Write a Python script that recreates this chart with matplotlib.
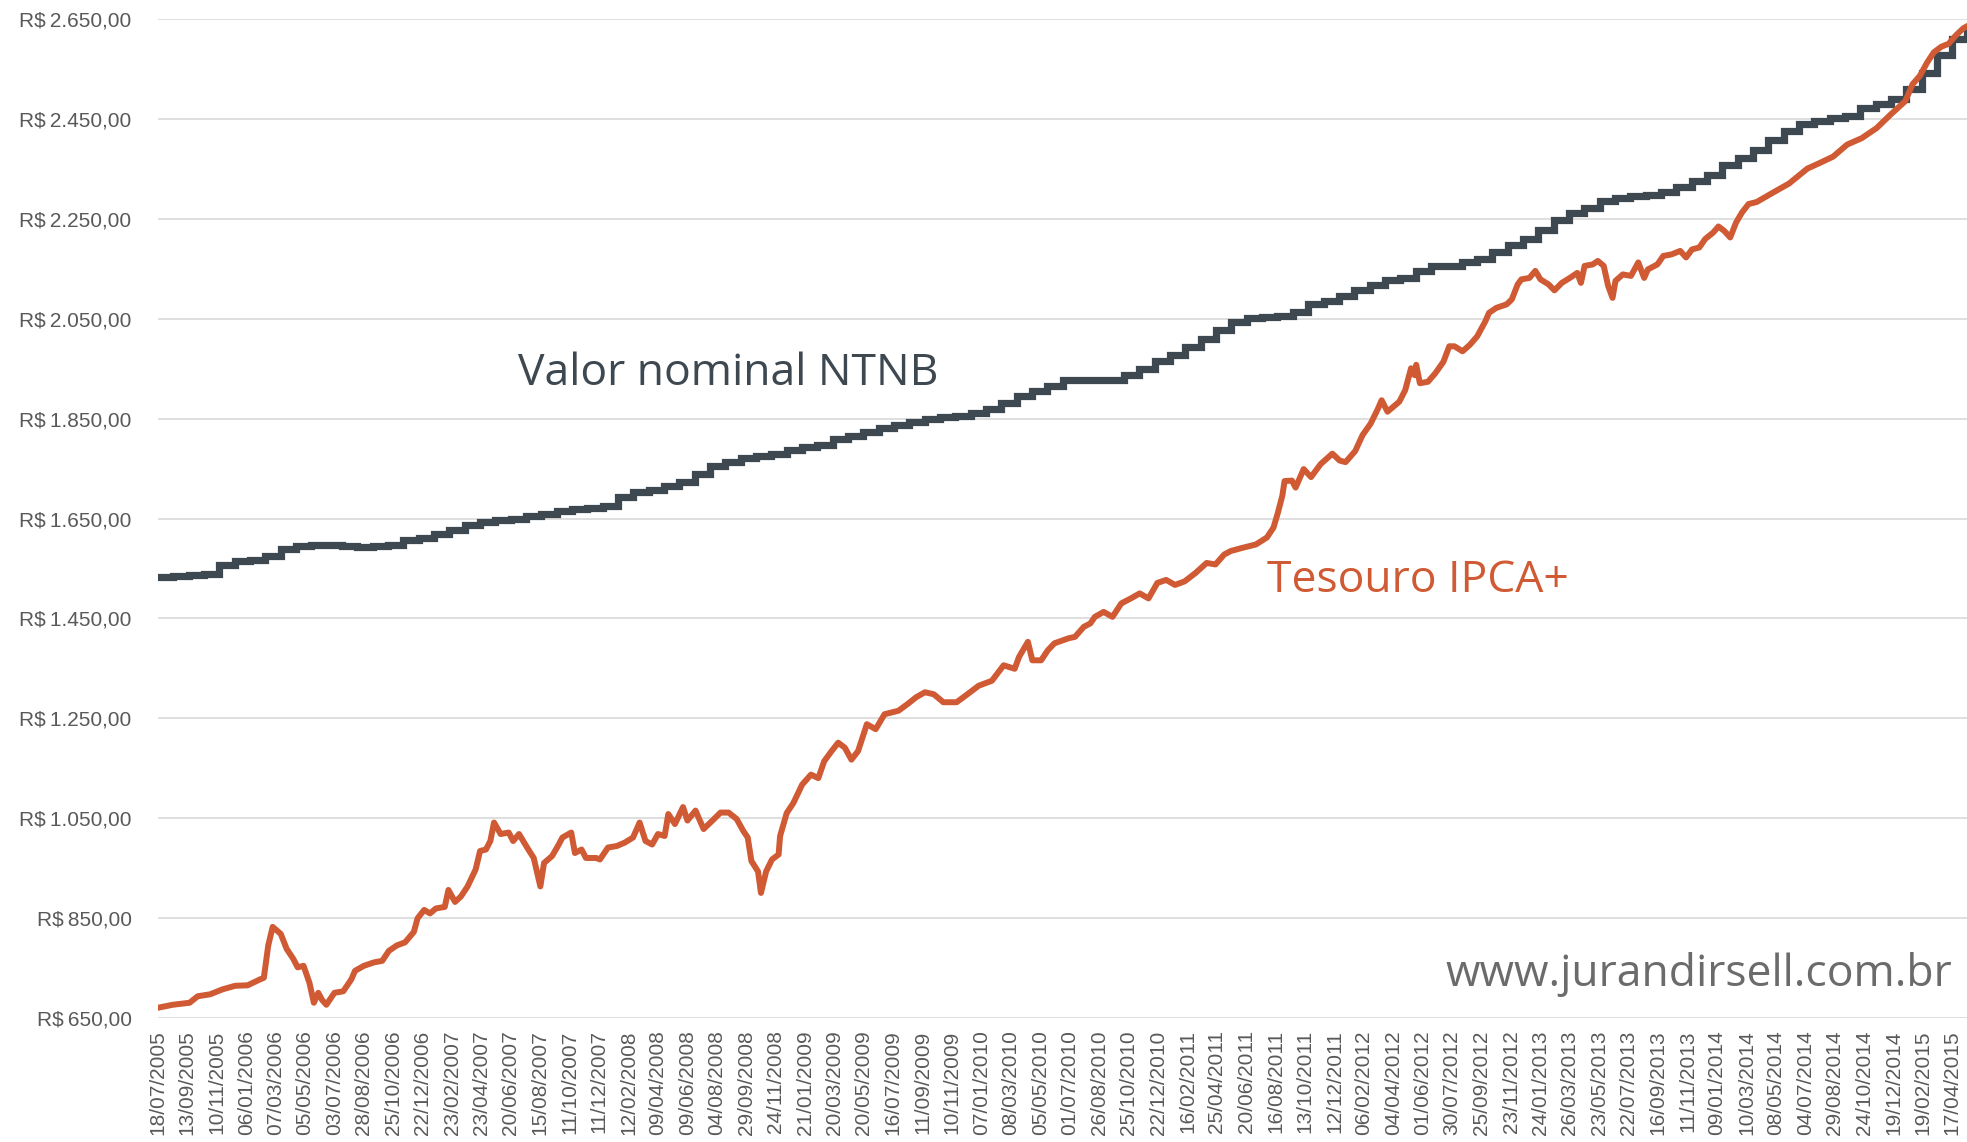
import numpy as np
import matplotlib.pyplot as plt

# =====================================================
# Dados
# =====================================================

# rótulos do eixo x (um a cada 40 pregões)
datas = [
    "18/07/2005", "13/09/2005", "10/11/2005", "06/01/2006", "07/03/2006",
    "05/05/2006", "03/07/2006", "28/08/2006", "25/10/2006", "22/12/2006",
    "23/02/2007", "23/04/2007", "20/06/2007", "15/08/2007", "11/10/2007",
    "11/12/2007", "12/02/2008", "09/04/2008", "09/06/2008", "04/08/2008",
    "29/09/2008", "24/11/2008", "21/01/2009", "20/03/2009", "20/05/2009",
    "16/07/2009", "11/09/2009", "10/11/2009", "07/01/2010", "08/03/2010",
    "05/05/2010", "01/07/2010", "26/08/2010", "25/10/2010", "22/12/2010",
    "16/02/2011", "25/04/2011", "20/06/2011", "16/08/2011", "13/10/2011",
    "12/12/2011", "06/02/2012", "04/04/2012", "01/06/2012", "30/07/2012",
    "25/09/2012", "23/11/2012", "24/01/2013", "26/03/2013", "23/05/2013",
    "22/07/2013", "16/09/2013", "11/11/2013", "09/01/2014", "10/03/2014",
    "08/05/2014", "04/07/2014", "29/08/2014", "24/10/2014", "19/12/2014",
    "19/02/2015", "17/04/2015",
]
passo_rotulo = 40
n_pregoes = 2460

# Valor nominal NTNB - um valor por mês (jul/2005 ... mai/2015)
ntnb_mensal = [
    1532, 1534, 1536, 1538, 1557, 1564, 1566, 1575, 1588, 1594,
    1596, 1597, 1594, 1593, 1594, 1597, 1606, 1611, 1620, 1628,
    1637, 1643, 1647, 1650, 1655, 1660, 1666, 1669, 1671, 1676,
    1693, 1703, 1708, 1715, 1724, 1740, 1756, 1764, 1772, 1775,
    1780, 1787, 1793, 1798, 1810, 1816, 1823, 1831, 1838, 1844,
    1849, 1853, 1856, 1861, 1870, 1882, 1895, 1905, 1916, 1927,
    1927, 1927, 1927, 1937, 1949, 1966, 1978, 1993, 2010, 2027,
    2044, 2052, 2054, 2056, 2064, 2079, 2086, 2095, 2108, 2118,
    2128, 2132, 2145, 2155, 2155, 2163, 2170, 2184, 2198, 2210,
    2228, 2248, 2262, 2273, 2286, 2292, 2297, 2299, 2305, 2315,
    2327, 2339, 2358, 2373, 2389, 2409, 2426, 2441, 2447, 2453,
    2457, 2472, 2480, 2490, 2510, 2542, 2578, 2611, 2625,
]

# Tesouro IPCA+ - (pregão, valor)
ipca_pregao = [
    0, 20, 43, 54, 71, 88, 105, 122, 139, 144,
    150, 156, 167, 175, 184, 190, 198, 206, 212, 218,
    223, 229, 240, 252, 263, 268, 280, 294, 305, 314,
    325, 336, 348, 353, 362, 370, 378, 390, 395, 404,
    412, 421, 432, 438, 446, 452, 457, 466, 477, 483,
    491, 502, 511, 520, 525, 536, 545, 550, 562, 567,
    576, 582, 596, 601, 612, 624, 635, 646, 655, 663,
    672, 680, 689, 694, 703, 714, 720, 731, 742, 754,
    765, 776, 787, 796, 802, 807, 816, 820, 827, 835,
    844, 846, 855, 864, 876, 888, 898, 906, 916, 925,
    934, 943, 952, 964, 976, 988, 1007, 1019, 1031, 1043,
    1055, 1068, 1086, 1098, 1116, 1134, 1150, 1165, 1171, 1183,
    1189, 1201, 1210, 1219, 1238, 1247, 1259, 1268, 1274, 1286,
    1298, 1310, 1323, 1335, 1347, 1359, 1371, 1383, 1396, 1411,
    1426, 1438, 1450, 1459, 1474, 1493, 1508, 1517, 1523, 1529,
    1532, 1542, 1547, 1558, 1568, 1581, 1597, 1607, 1615, 1628,
    1638, 1649, 1659, 1664, 1672, 1688, 1696, 1704, 1709, 1711,
    1716, 1727, 1737, 1748, 1756, 1763, 1774, 1784, 1794, 1805,
    1810, 1820, 1834, 1841, 1849, 1854, 1865, 1873, 1880, 1891,
    1899, 1909, 1920, 1930, 1935, 1940, 1951, 1958, 1966, 1972,
    1978, 1982, 1992, 2003, 2013, 2021, 2026, 2039, 2047, 2058,
    2070, 2078, 2086, 2096, 2104, 2115, 2122, 2130, 2138, 2146,
    2154, 2163, 2174, 2194, 2218, 2243, 2258, 2278, 2297, 2317,
    2337, 2356, 2376, 2386, 2396, 2406, 2415, 2425, 2435, 2445,
    2455, 2460,
]
ipca_valor = [
    670, 676, 680, 693, 697, 707, 714, 715, 727, 730,
    795, 832, 818, 788, 768, 751, 754, 720, 680, 700,
    686, 676, 700, 703, 727, 744, 754, 761, 764, 784,
    795, 801, 822, 849, 866, 859, 869, 872, 906, 882,
    893, 913, 947, 984, 987, 1004, 1041, 1018, 1021, 1004,
    1018, 991, 970, 913, 960, 974, 997, 1011, 1021, 980,
    987, 970, 970, 967, 991, 994, 1001, 1011, 1041, 1004,
    997, 1018, 1014, 1058, 1038, 1072, 1045, 1065, 1028, 1045,
    1061, 1061, 1048, 1024, 1011, 964, 943, 900, 943, 967,
    977, 1014, 1060, 1080, 1117, 1137, 1130, 1164, 1184, 1201,
    1191, 1167, 1184, 1238, 1228, 1258, 1265, 1278, 1292, 1302,
    1298, 1282, 1282, 1295, 1315, 1325, 1356, 1349, 1373, 1403,
    1366, 1366, 1386, 1400, 1410, 1413, 1433, 1440, 1453, 1463,
    1453, 1480, 1490, 1500, 1490, 1521, 1527, 1517, 1524, 1541,
    1561, 1558, 1578, 1585, 1591, 1598, 1612, 1632, 1662, 1696,
    1725, 1726, 1712, 1749, 1733, 1759, 1780, 1766, 1763, 1785,
    1817, 1840, 1870, 1887, 1864, 1884, 1907, 1951, 1937, 1958,
    1921, 1924, 1941, 1964, 1995, 1995, 1985, 1998, 2015, 2045,
    2062, 2072, 2079, 2089, 2119, 2129, 2132, 2146, 2129, 2119,
    2107, 2122, 2132, 2142, 2122, 2156, 2159, 2166, 2156, 2116,
    2092, 2126, 2139, 2136, 2163, 2132, 2149, 2159, 2176, 2179,
    2186, 2173, 2189, 2193, 2210, 2223, 2235, 2226, 2213, 2243,
    2263, 2280, 2284, 2301, 2321, 2351, 2361, 2375, 2399, 2412,
    2432, 2459, 2486, 2520, 2537, 2564, 2584, 2595, 2601, 2618,
    2632, 2636,
]

y_ticks = [650, 850, 1050, 1250, 1450, 1650, 1850, 2050, 2250, 2450, 2650]

# =====================================================
# Cores
# =====================================================

COR_NTNB = "#3e4851"
COR_IPCA = "#cf5a33"
COR_GRADE = "#d9d9d9"
COR_ROTULO = "#595959"


def reais(v):
    s = f"{v:,.2f}".replace(",", "X").replace(".", ",").replace("X", ".")
    return "R$\u2009" + s


# =====================================================
# Gráfico
# =====================================================

fig = plt.figure(figsize=(19.67, 11.42), dpi=100)
ax = fig.add_axes([0.0803, 0.1088, 0.9197, 0.8743])

# NTNB em degraus mensais
largura_mes = (len(datas) - 1) * passo_rotulo / 117
x_ntnb = np.arange(len(ntnb_mensal)) * largura_mes
x_ntnb = np.append(x_ntnb, n_pregoes)
y_ntnb = np.append(ntnb_mensal, ntnb_mensal[-1])

ax.plot(x_ntnb, y_ntnb, drawstyle="steps-post", color=COR_NTNB,
        linewidth=5.2, solid_joinstyle="miter", zorder=3)

ax.plot(ipca_pregao, ipca_valor, color=COR_IPCA, linewidth=4.3,
        solid_joinstyle="round", zorder=4)

ax.set_xlim(0, n_pregoes)
ax.set_ylim(650, 2650)

ax.set_yticks(y_ticks)
ax.set_yticklabels([reais(v) for v in y_ticks])
ax.set_xticks(np.arange(len(datas)) * passo_rotulo)
ax.set_xticklabels(datas, rotation=90)

ax.tick_params(axis="y", length=0, pad=19, labelsize=15, labelcolor=COR_ROTULO)
ax.tick_params(axis="x", length=0, pad=9, labelsize=15, labelcolor=COR_ROTULO)
for lab in ax.get_xticklabels() + ax.get_yticklabels():
    lab.set_family(["Liberation Sans", "DejaVu Sans"])

ax.grid(axis="y", color=COR_GRADE, linewidth=1.2)
ax.set_axisbelow(True)
for s in ax.spines.values():
    s.set_visible(False)

ax.text(0.199, 0.645, "Valor nominal NTNB", transform=ax.transAxes,
        fontsize=32, color=COR_NTNB, family="Open Sans", va="center", ha="left")
ax.text(0.613, 0.4375, "Tesouro IPCA+", transform=ax.transAxes,
        fontsize=32, color=COR_IPCA, family="Open Sans", va="center", ha="left")
ax.text(0.992, 0.043, "www.jurandirsell.com.br", transform=ax.transAxes,
        fontsize=32, color="#6b6b6b", family="Open Sans", va="center", ha="right")

fig.savefig("out.png", dpi=100)
